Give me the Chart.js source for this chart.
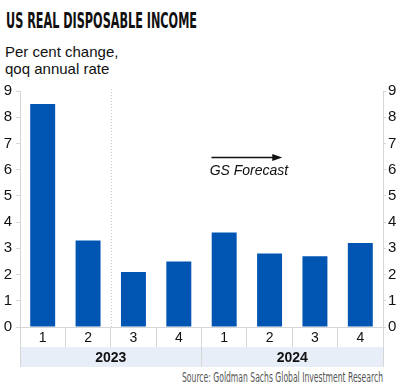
<!DOCTYPE html>
<html lang="en">
<head>
    <meta charset="UTF-8">
    <title>US Real Disposable Income</title>
    <script src="https://cdn.jsdelivr.net/npm/chart.js"></script>
    <style>
        body {
            margin: 0;
            width: 400px;
            height: 392px;
            background: #fff;
            position: relative;
            overflow: hidden;
            font-family: "Liberation Sans", Arial, sans-serif;
        }
        .fit {
            position: absolute;
            white-space: nowrap;
            transform-origin: 0 0;
        }
        #title {
            left: 6px;
            top: 8px;
            font-family: "Liberation Sans Narrow", "DejaVu Sans Condensed", sans-serif;
            font-weight: bold;
            font-size: 22px;
            color: #111;
        }
        #subtitle {
            position: absolute;
            left: 5px;
            top: 43px;
            font-size: 15px;
            line-height: 17px;
            color: #111;
        }
        #source {
            top: 369px;
            font-family: "Liberation Sans Narrow", "DejaVu Sans Condensed", sans-serif;
            font-size: 14px;
            color: #555;
        }
        #wrap {
            position: absolute;
            left: 0;
            top: 78px;
            width: 400px;
            height: 289px;
        }
    </style>
</head>
<body>
    <div id="title" class="fit">US REAL DISPOSABLE INCOME</div>
    <div id="subtitle">Per cent change,<br>qoq annual rate</div>
    <div id="source" class="fit">Source: Goldman Sachs Global Investment Research</div>
    <div id="wrap"><canvas id="incomeChart"></canvas></div>

    <script>
        const quarters = ['1', '2', '3', '4', '1', '2', '3', '4'];
        const years = ['2023', '2024'];
        const incomeGrowth = [8.5, 3.3, 2.1, 2.5, 3.6, 2.8, 2.7, 3.2];
        const yTicks = [0, 1, 2, 3, 4, 5, 6, 7, 8, 9];

        // stretch condensed text to the width seen in the original
        function fitWidth(id, left, width) {
            const el = document.getElementById(id);
            const w = el.getBoundingClientRect().width;
            el.style.left = left + 'px';
            el.style.transform = 'scaleX(' + (width / w) + ')';
        }
        fitWidth('title', 6, 191);
        fitWidth('source', 182, 201);

        const gridColor = '#d6d6d6';
        const labelFont = { family: 'Liberation Sans, Arial', size: 14 };

        const extras = {
            id: 'extras',
            beforeDraw(chart) {
                const ctx = chart.ctx;
                const x2 = chart.scales.x2;
                ctx.save();
                ctx.fillStyle = '#e7eef7';
                ctx.fillRect(x2.left, x2.top, x2.right - x2.left, x2.bottom - x2.top);
                ctx.restore();
            },
            afterDraw(chart) {
                const ctx = chart.ctx;
                const x = chart.scales.x;
                const y = chart.scales.y;
                const area = chart.chartArea;
                ctx.save();
                // dotted divider between actual and forecast
                const dx = Math.round((x.getPixelForTick(1) + x.getPixelForTick(2)) / 2) + 0.5;
                ctx.strokeStyle = '#c8c8c8';
                ctx.lineWidth = 1;
                ctx.setLineDash([1, 2]);
                ctx.beginPath();
                ctx.moveTo(dx, area.top - 2);
                ctx.lineTo(dx, area.bottom);
                ctx.stroke();
                ctx.setLineDash([]);

                // forecast arrow
                const ax0 = x.getPixelForValue(3.72);
                const ax1 = x.getPixelForValue(5.28);
                const ay = Math.round(y.getPixelForValue(6.47)) + 0.5;
                ctx.strokeStyle = '#111';
                ctx.fillStyle = '#111';
                ctx.lineWidth = 1.5;
                ctx.beginPath();
                ctx.moveTo(ax0, ay);
                ctx.lineTo(ax1 - 8, ay);
                ctx.stroke();
                ctx.beginPath();
                ctx.moveTo(ax1, ay);
                ctx.lineTo(ax1 - 10, ay - 3.5);
                ctx.lineTo(ax1 - 10, ay + 3.5);
                ctx.closePath();
                ctx.fill();

                ctx.font = 'italic 14px "Liberation Sans", Arial';
                ctx.textBaseline = 'middle';
                ctx.textAlign = 'left';
                ctx.fillText('GS Forecast', x.getPixelForValue(3.68), y.getPixelForValue(5.96));
                ctx.restore();
            }
        };

        const ctx = document.getElementById('incomeChart').getContext('2d');
        new Chart(ctx, {
            type: 'bar',
            data: {
                labels: quarters,
                datasets: [{
                    data: incomeGrowth,
                    backgroundColor: '#0055b3',
                    categoryPercentage: 1,
                    barPercentage: 0.55
                }]
            },
            options: {
                responsive: true,
                maintainAspectRatio: false,
                animation: false,
                layout: { padding: { top: 11, left: 0, right: 0, bottom: 0 } },
                plugins: {
                    legend: { display: false },
                    tooltip: { enabled: false }
                },
                scales: {
                    x: {
                        position: 'bottom',
                        offset: true,
                        grid: {
                            offset: true,
                            drawOnChartArea: false,
                            tickLength: 20,
                            color: gridColor
                        },
                        border: { color: gridColor },
                        ticks: { color: '#111', font: labelFont, padding: -17, maxRotation: 0 },
                        afterFit: s => { s.height = 20; }
                    },
                    x2: {
                        type: 'category',
                        position: 'bottom',
                        labels: years,
                        offset: true,
                        grid: {
                            offset: true,
                            drawOnChartArea: false,
                            tickLength: 20,
                            color: gridColor
                        },
                        border: { display: false },
                        ticks: {
                            color: '#111',
                            font: { family: 'Liberation Sans, Arial', size: 14, weight: 'bold' },
                            padding: -17,
                            maxRotation: 0
                        },
                        afterFit: s => { s.height = 20; }
                    },
                    y: {
                        position: 'left',
                        min: 0,
                        max: 9,
                        afterBuildTicks: s => { s.ticks = yTicks.map(v => ({ value: v })); },
                        grid: { drawOnChartArea: false, tickLength: 4, color: gridColor },
                        border: { color: gridColor },
                        ticks: { color: '#111', font: { family: 'Liberation Sans, Arial', size: 15 }, padding: 4 },
                        afterFit: s => { s.width = 20; }
                    },
                    y2: {
                        position: 'right',
                        min: 0,
                        max: 9,
                        afterBuildTicks: s => { s.ticks = yTicks.map(v => ({ value: v })); },
                        grid: { drawOnChartArea: false, tickLength: 3, color: gridColor },
                        border: { color: gridColor },
                        ticks: { color: '#111', font: { family: 'Liberation Sans, Arial', size: 15 }, padding: 2 },
                        afterFit: s => { s.width = 17; }
                    }
                }
            },
            plugins: [extras]
        });
    </script>
</body>
</html>
